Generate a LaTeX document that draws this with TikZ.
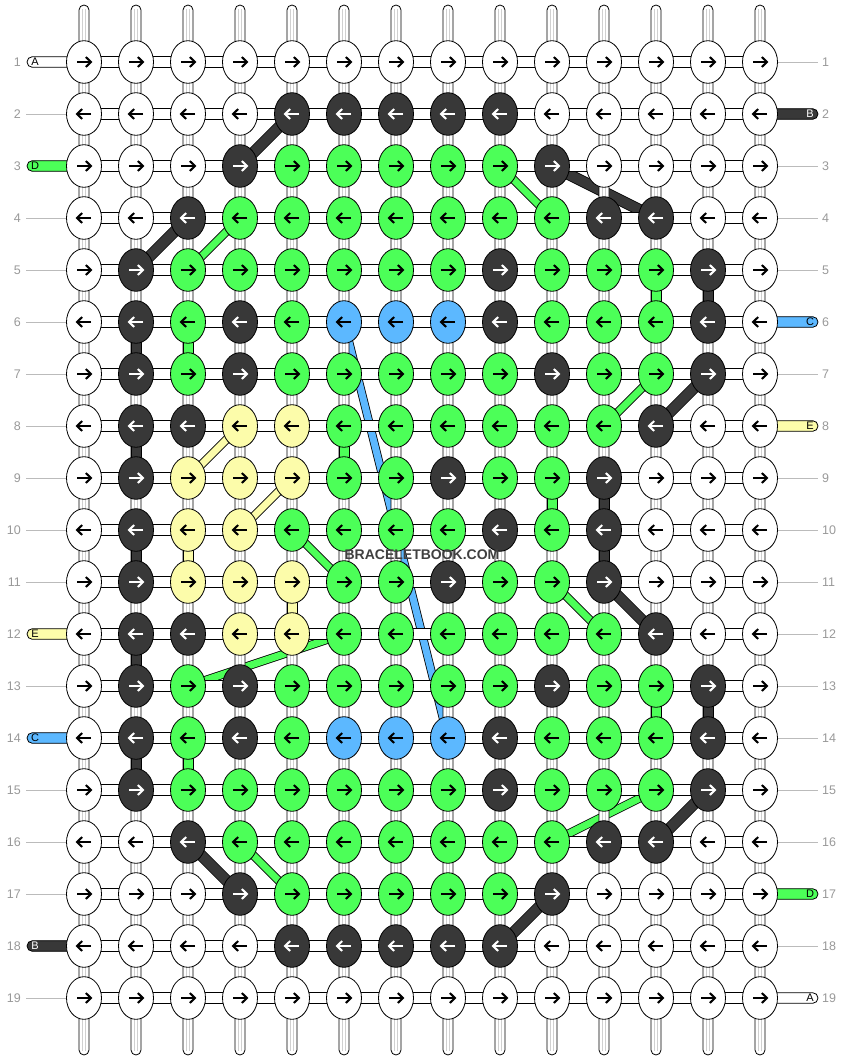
\documentclass[tikz,border=0pt]{standalone}
\usepackage{fontspec}
\setmainfont{Liberation Sans}
\usetikzlibrary{shapes.geometric}
\definecolor{cW}{HTML}{FFFFFF}
\definecolor{cK}{HTML}{383838}
\definecolor{cG}{HTML}{4CFF58}
\definecolor{cB}{HTML}{5CB8FF}
\definecolor{cY}{HTML}{FCFCAA}
\colorlet{aW}{black}
\colorlet{aK}{white}
\colorlet{aG}{black}
\colorlet{aB}{black}
\colorlet{aY}{black}
\definecolor{numgray}{HTML}{999999}
\definecolor{linegray}{HTML}{BBBBBB}
\definecolor{innergray}{HTML}{D0D0D0}
\definecolor{wmgray}{HTML}{404040}
\begin{document}
\begin{tikzpicture}[x=1pt,y=-1pt,
  knot/.style={ellipse, draw=black, line width=0.8pt, minimum width=35pt, minimum height=42.6pt, inner sep=0pt},
  bandK/.style={line width=0.8pt, double=cK, double distance=10pt},
  bandG/.style={line width=0.8pt, double=cG, double distance=7pt},
  bandY/.style={line width=0.8pt, double=cY, double distance=7pt},
  bandB/.style={line width=0.8pt, double=cB, double distance=7pt},
  arrowline/.style={line width=2pt, line join=miter, line cap=butt},
  numlabel/.style={font=\fontsize{12.5}{12.5}\selectfont, text=numgray, inner sep=0pt},
  tabletter/.style={font=\fontsize{11}{11}\selectfont, inner sep=0pt},
  strand/.style={draw=black, line width=0.8pt, fill=white},
  sideline/.style={draw=linegray, line width=0.8pt},
]
\fill[white] (0,0) rectangle (844,1060);
\useasboundingbox (0,0) rectangle (844,1060);

% coordinates of knots
\foreach \r in {1,...,19} {
  \foreach \c in {1,...,14} {
    \coordinate (p-\r-\c) at ({84+52*(\c-1)},{62+52*(\r-1)});
  }
}

% colored string bands
\draw[bandK] (p-2-5) -- (p-3-4);
\draw[bandK] (p-4-3) -- (p-5-2);
\draw[bandK] (p-3-10) -- (p-4-12);
\draw[bandK] (p-7-13) -- (p-8-12);
\draw[bandK] (p-11-11) -- (p-12-12);
\draw[bandK] (p-16-3) -- (p-17-4);
\draw[bandK] (p-18-9) -- (p-17-10);
\draw[bandK] (p-16-12) -- (p-15-13);
\draw[bandG] (p-3-9) -- (p-4-10);
\draw[bandG] (p-4-4) -- (p-5-3);
\draw[bandG] (p-7-12) -- (p-8-11);
\draw[bandG] (p-10-5) -- (p-11-6);
\draw[bandG] (p-11-10) -- (p-12-11);
\draw[bandG] (p-13-3) -- (p-12-6);
\draw[bandG] (p-16-4) -- (p-17-5);
\draw[bandG] (p-16-10) -- (p-15-12);
\draw[bandY] (p-8-4) -- (p-9-3);
\draw[bandY] (p-9-5) -- (p-10-4);
\draw[bandB] (p-6-6) -- (p-14-8);

% vertical strings
\foreach \c in {1,...,14} {
  \pgfmathsetmacro\xx{84+52*(\c-1)}
  \draw[strand, rounded corners=5pt] (\xx-5,5) rectangle (\xx+5,1055);
  \draw[innergray, line width=0.6pt] (\xx-1.4,9) -- (\xx-1.4,1051) (\xx+1.4,9) -- (\xx+1.4,1051);
}

% side tabs and lines
\foreach \r/\l/\k in {1/A/W, 3/D/G, 12/E/Y, 14/C/B, 18/B/K} {
  \pgfmathsetmacro\yy{62+52*(\r-1)}
  \draw[line width=0.8pt, fill=c\k, rounded corners=5.3pt] (27,\yy-5.3) rectangle (80,\yy+5.3);
  \node[tabletter, text=a\k] (lt-\r) at (35,\yy) {\l};
}
\foreach \r/\l/\k in {2/B/K, 6/C/B, 8/E/Y, 17/D/G, 19/A/W} {
  \pgfmathsetmacro\yy{62+52*(\r-1)}
  \draw[line width=0.8pt, fill=c\k, rounded corners=5.3pt] (764,\yy-5.3) rectangle (818,\yy+5.3);
  \node[tabletter, text=a\k] (rt-\r) at (810,\yy) {\l};
}
\foreach \r in {2,4,5,6,7,8,9,10,11,13,15,16,17,19} {
  \pgfmathsetmacro\yy{62+52*(\r-1)}
  \draw[sideline] (26,\yy) -- (67,\yy);
}
\foreach \r in {1,3,4,5,7,9,10,11,12,13,14,15,16,18} {
  \pgfmathsetmacro\yy{62+52*(\r-1)}
  \draw[sideline] (777,\yy) -- (818,\yy);
}

% horizontal strings
\foreach \r in {1,...,19} {
  \pgfmathsetmacro\yy{62+52*(\r-1)}
  \draw[strand] (70,\yy-5.3) rectangle (774,\yy+5.3);
}

% colored vertical links
\foreach \c/\r/\k in {2/6/K, 2/8/K, 2/10/K, 2/12/K, 2/14/K, 3/6/G, 3/10/Y, 3/14/G,
  12/5/G, 12/13/G, 13/5/K, 13/13/K, 11/9/K, 11/10/K, 10/9/G, 6/8/G, 5/11/Y} {
  \pgfmathsetmacro\xx{84+52*(\c-1)}
  \pgfmathsetmacro\yy{62+52*(\r-1)}
  \draw[line width=0.8pt, fill=c\k] (\xx-5,\yy+16) rectangle (\xx+5,\yy+36);
}

% knots
\foreach \r/\row in {
  1/{W,W,W,W,W,W,W,W,W,W,W,W,W,W},
  2/{W,W,W,W,K,K,K,K,K,W,W,W,W,W},
  3/{W,W,W,K,G,G,G,G,G,K,W,W,W,W},
  4/{W,W,K,G,G,G,G,G,G,G,K,K,W,W},
  5/{W,K,G,G,G,G,G,G,K,G,G,G,K,W},
  6/{W,K,G,K,G,B,B,B,K,G,G,G,K,W},
  7/{W,K,G,K,G,G,G,G,G,K,G,G,K,W},
  8/{W,K,K,Y,Y,G,G,G,G,G,G,K,W,W},
  9/{W,K,Y,Y,Y,G,G,K,G,G,K,W,W,W},
  10/{W,K,Y,Y,G,G,G,G,K,G,K,W,W,W},
  11/{W,K,Y,Y,Y,G,G,K,G,G,K,W,W,W},
  12/{W,K,K,Y,Y,G,G,G,G,G,G,K,W,W},
  13/{W,K,G,K,G,G,G,G,G,K,G,G,K,W},
  14/{W,K,G,K,G,B,B,B,K,G,G,G,K,W},
  15/{W,K,G,G,G,G,G,G,K,G,G,G,K,W},
  16/{W,W,K,G,G,G,G,G,G,G,K,K,W,W},
  17/{W,W,W,K,G,G,G,G,G,K,W,W,W,W},
  18/{W,W,W,W,K,K,K,K,K,W,W,W,W,W},
  19/{W,W,W,W,W,W,W,W,W,W,W,W,W,W}} {
  \pgfmathtruncatemacro\dd{mod(\r,2)==1 ? 1 : -1}
  \pgfmathsetmacro\yy{62+52*(\r-1)}
  \foreach \k [count=\c] in \row {
    \pgfmathsetmacro\xx{84+52*(\c-1)}
    \node[knot, fill=c\k] (k-\r-\c) at (p-\r-\c) {};
    \draw[arrowline, draw=a\k] (\xx-7*\dd,\yy) -- (\xx+6.5*\dd,\yy);
    \draw[arrowline, draw=a\k] (\xx+1.8*\dd,\yy-5) -- (\xx+7*\dd,\yy) -- (\xx+1.8*\dd,\yy+5);
  }
}

% row numbers
\foreach \r in {1,...,19} {
  \pgfmathsetmacro\yy{62+52*(\r-1)}
  \node[numlabel, anchor=east] (ln-\r) at (21,\yy) {\r};
  \node[numlabel, anchor=west] (rn-\r) at (822,\yy) {\r};
}

% watermark
\node[font=\bfseries\fontsize{14}{14}\selectfont, text=wmgray, inner sep=0pt] (wm) at (422,555) {BRACELETBOOK.COM};
\end{tikzpicture}
\end{document}
